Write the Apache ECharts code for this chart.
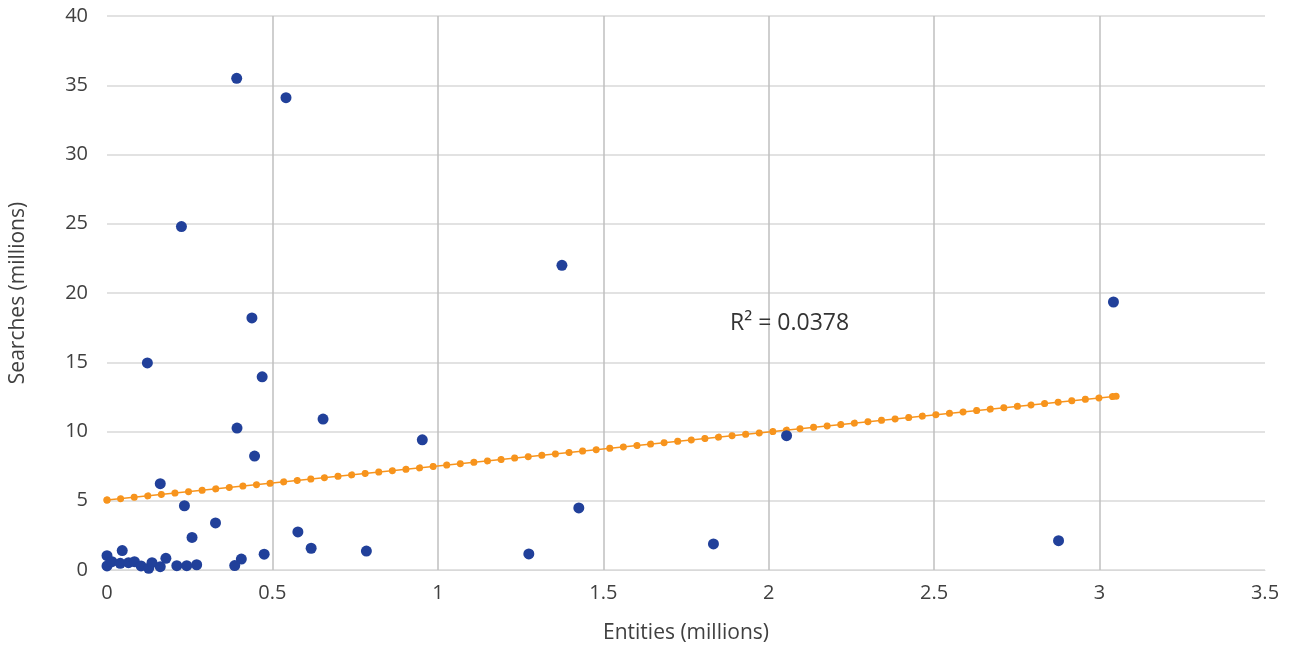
<!DOCTYPE html>
<html>
<head>
<meta charset="utf-8">
<script src="https://cdn.jsdelivr.net/npm/echarts@6/dist/echarts.min.js"></script>
<style>
html,body{margin:0;padding:0;background:#fff;}
#main{width:1293px;height:651px;}
</style>
</head>
<body>
<div id="main"></div>
<script>
// Entities (millions)
var entities = [0.392,0.541,0.225,1.375,3.042,0.438,0.122,0.469,0.653,0.393,0.953,2.054,0.446,0.161,0.234,1.426,0.328,0.577,0.257,2.876,1.833,0.617,0.784,0.046,1.275,0.475,0.0,0.406,0.386,0.0,0.015,0.040,0.065,0.083,0.103,0.126,0.136,0.161,0.178,0.211,0.241,0.271];
// Searches (millions)
var searches = [35.5,34.1,24.8,22.0,19.35,18.2,14.95,13.95,10.9,10.25,9.4,9.7,8.23,6.23,4.64,4.48,3.4,2.75,2.35,2.12,1.88,1.57,1.37,1.40,1.16,1.14,1.03,0.79,0.32,0.29,0.60,0.48,0.53,0.60,0.29,0.12,0.53,0.24,0.84,0.31,0.31,0.38];
// Linear trendline endpoints (as drawn)
var trendX = [0, 3.05];
var trendY = [5.05, 12.55];
var r2Label = 'R² = 0.0378';
var xTicks = [0,0.5,1,1.5,2,2.5,3,3.5];
var yTicks = [0,5,10,15,20,25,30,35,40];

var pts = entities.map(function(x,i){return [x, searches[i]];});
var trend = trendX.map(function(x,i){return [x, trendY[i]];});

var FONT = '"Open Sans"';
var TXT = '#404040';
var chart = echarts.init(document.getElementById('main'), null, {renderer:'canvas'});
chart.setOption({
  animation:false,
  grid:{left:105,right:28,top:16,bottom:81,containLabel:false},
  xAxis:{
    type:'value',min:xTicks[0],max:xTicks[xTicks.length-1],interval:0.5,
    name:'Entities (millions)',nameLocation:'middle',nameGap:53,
    nameTextStyle:{fontFamily:FONT,fontSize:21,color:TXT},
    axisLine:{show:true,lineStyle:{color:'#d9d9d9',width:1}},
    axisTick:{show:false},
    axisLabel:{fontFamily:FONT,fontSize:20,color:TXT,margin:13},
    splitLine:{show:true,showMinLine:false,showMaxLine:false,lineStyle:{color:'#bfbfbf',width:1.5}}
  },
  yAxis:{
    type:'value',min:yTicks[0],max:yTicks[yTicks.length-1],interval:5,
    name:'Searches (millions)',nameLocation:'middle',nameGap:78,
    nameTextStyle:{fontFamily:FONT,fontSize:21,color:TXT},
    axisLine:{show:false},axisTick:{show:false},
    axisLabel:{fontFamily:FONT,fontSize:20,color:TXT,margin:19},
    splitLine:{show:true,lineStyle:{color:'#d9d9d9',width:1.5}}
  },
  series:[
    {type:'line',data:trend,symbol:'circle',symbolSize:7,showSymbol:true,
     itemStyle:{color:'#f7941d'},lineStyle:{color:'#f7941d',width:1.5},z:2,silent:true},
    {type:'line',data:trend,symbol:'none',
     lineStyle:{color:'#f7941d',width:7,type:[0.01,13.65],cap:'round'},z:2,silent:true},
    {type:'scatter',data:pts,symbol:'circle',symbolSize:11,clip:false,
     itemStyle:{color:'#21409a',opacity:1},z:3}
  ],
  graphic:[{type:'text',left:730,top:312,z:10,
    style:{text:r2Label,fontFamily:FONT,fontSize:23,fill:'#333333'}}]
});
</script>
</body>
</html>
